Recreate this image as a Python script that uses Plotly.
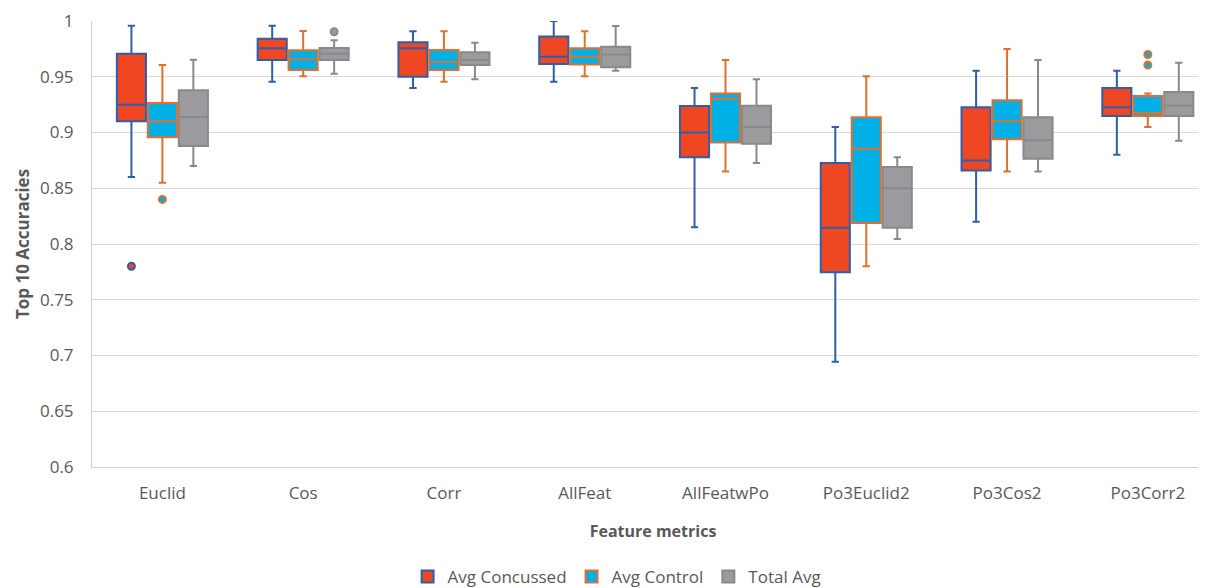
import plotly.graph_objects as go

categories = ["Euclid", "Cos", "Corr", "AllFeat", "AllFeatwPo", "Po3Euclid2", "Po3Cos2", "Po3Corr2"]

conc_low = [0.860, 0.9456, 0.940, 0.9456, 0.815, 0.6945, 0.820, 0.880]
conc_q1 = [0.910, 0.965, 0.950, 0.9614, 0.8777, 0.7746, 0.866, 0.9148]
conc_med = [0.925, 0.9755, 0.9755, 0.968, 0.900, 0.8146, 0.875, 0.9226]
conc_q3 = [0.9707, 0.984, 0.9809, 0.986, 0.9238, 0.8726, 0.9226, 0.940]
conc_high = [0.9958, 0.9958, 0.9907, 1.0, 0.940, 0.905, 0.9554, 0.9554]
conc_out = [[0.780], [], [], [], [], [], [], []]

ctrl_low = [0.855, 0.9504, 0.9456, 0.9504, 0.865, 0.780, 0.865, 0.905]
ctrl_q1 = [0.8957, 0.956, 0.956, 0.961, 0.891, 0.8188, 0.894, 0.9148]
ctrl_med = [0.910, 0.9656, 0.963, 0.968, 0.930, 0.8855, 0.910, 0.9175]
ctrl_q3 = [0.9265, 0.9737, 0.974, 0.9755, 0.935, 0.9136, 0.929, 0.9327]
ctrl_high = [0.9605, 0.991, 0.9907, 0.9907, 0.965, 0.9504, 0.975, 0.935]
ctrl_out = [[0.840], [], [], [], [], [], [], [0.9605, 0.970]]

tot_low = [0.870, 0.9527, 0.9477, 0.9554, 0.8726, 0.8045, 0.865, 0.8927]
tot_q1 = [0.888, 0.965, 0.9605, 0.9585, 0.890, 0.8146, 0.8765, 0.9148]
tot_med = [0.914, 0.9707, 0.965, 0.970, 0.905, 0.850, 0.893, 0.924]
tot_q3 = [0.938, 0.9758, 0.972, 0.977, 0.924, 0.869, 0.9136, 0.9363]
tot_high = [0.9653, 0.9827, 0.9806, 0.9955, 0.9477, 0.8777, 0.965, 0.9626]
tot_out = [[], [0.9904], [], [], [], [], [], []]

y_ticks = [0.6, 0.65, 0.7, 0.75, 0.8, 0.85, 0.9, 0.95, 1]
y_ticktext = ["0.6", "0.65", "0.7", "0.75", "0.8", "0.85", "0.9", "0.95", "1"]

series = [
    ("Avg Concussed", conc_low, conc_q1, conc_med, conc_q3, conc_high, conc_out, "#EE4722", "#2F5FAC"),
    ("Avg Control", ctrl_low, ctrl_q1, ctrl_med, ctrl_q3, ctrl_high, ctrl_out, "#00B0E6", "#E2702C"),
    ("Total Avg", tot_low, tot_q1, tot_med, tot_q3, tot_high, tot_out, "#9B9B9D", "#88898C"),
]

fig = go.Figure()
for name, lo, q1, med, q3, hi, outs, fill, line in series:
    # sample points per box: the median (inside the box, never drawn) plus the outliers
    samples = [[m] + list(o) for m, o in zip(med, outs)]
    fig.add_trace(go.Box(
        name=name,
        x=categories,
        q1=q1, median=med, q3=q3, lowerfence=lo, upperfence=hi,
        y=samples,
        boxpoints="outliers",
        fillcolor=fill,
        line=dict(color=line, width=2),
        marker=dict(color=fill, size=7, line=dict(color=line, width=2)),
        whiskerwidth=0.25,
        hoverinfo="skip",
    ))

font_family = "Open Sans, Liberation Sans, sans-serif"
fig.update_layout(
    width=1206, height=588,
    margin=dict(l=84, r=0, t=13, b=129),
    paper_bgcolor="white", plot_bgcolor="white",
    boxmode="group", boxgap=0.34, boxgroupgap=0.06,
    font=dict(family=font_family, size=17, color="#595959"),
    showlegend=True,
    legend=dict(orientation="h", x=0.468, xanchor="center", y=-0.2466, yanchor="middle",
                font=dict(size=17, color="#595959"), itemwidth=30, traceorder="normal"),
    xaxis=dict(
        type="category", categoryorder="array", categoryarray=categories,
        range=[-0.5, 7.47], automargin=False,
        showline=True, linecolor="#D0D0D0", linewidth=1,
        showgrid=False, ticks="", tickfont=dict(size=17, color="#595959"),
        ticklabelstandoff=11,
        title=dict(text="<b>Feature metrics</b>", font=dict(size=16, color="#595959"), standoff=22),
    ),
    yaxis=dict(
        range=[0.6, 1.0], tickvals=y_ticks, ticktext=y_ticktext, automargin=False,
        showgrid=True, gridcolor="#D9D9D9", gridwidth=1,
        showline=True, linecolor="#D0D0D0", linewidth=1,
        zeroline=False, ticks="", tickfont=dict(size=17, color="#595959"),
        ticklabelstandoff=14,
        title=dict(text="<b>Top 10 Accuracies</b>", font=dict(size=17, color="#595959"), standoff=6),
    ),
)

fig.write_html("out.html")
